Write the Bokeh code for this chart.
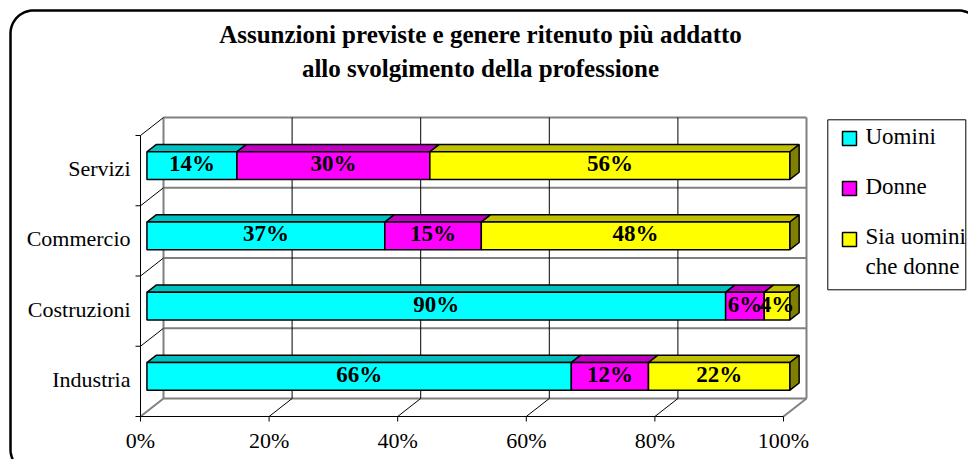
import numpy as np
from bokeh.plotting import figure
from bokeh.models import Range1d
from bokeh.core.properties import value
from bokeh.embed import file_html
from bokeh.resources import INLINE

# ---------------- data ----------------
categories = ["Industria", "Costruzioni", "Commercio", "Servizi"]
series_names = ["Uomini", "Donne", "Sia uomini\nche donne"]
uomini = [66, 90, 37, 14]
donne = [12, 6, 15, 30]
entrambi = [22, 4, 48, 56]
x_ticks = [0, 20, 40, 60, 80, 100]
x_tick_labels = ["0%", "20%", "40%", "60%", "80%", "100%"]
title_lines = ["Assunzioni previste e genere ritenuto più addatto",
               "allo svolgimento della professione"]

# ---------------- style ----------------
front_colors = ["#00FFFF", "#FF00FF", "#FFFF00"]
top_colors = ["#00C0C0", "#C000C0", "#C0C000"]
side_colors = ["#008080", "#800080", "#808000"]
GRAY = "#808080"
FONT = value("Liberation Serif")

# layout mapping (page pixels -> data units)
X0PX, PXPCT = 140.0, 6.43     # 0% of front axis, px per percent
Y0PX, PXCAT = 416.0, 70.25    # bottom of front axis, px per category
W, H = 968, 459
TFIX = 7.5                    # baseline correction of the svg text (px)


def X(px):
    return (px - X0PX) / PXPCT


def Y(py):
    return (Y0PX - py) / PXCAT


def YT(py):
    return Y(py - TFIX)


DX = 23.0 / PXPCT     # depth of the 3D box
DY = 18.0 / PXCAT
T1, T2 = 0.28, 0.68   # bar front/back depth fraction
HALF = 0.197          # half bar height (category units)

p = figure(width=W, height=H, output_backend="svg", toolbar_location=None,
           x_range=Range1d(X(0), X(W)), y_range=Range1d(Y(H), Y(0)),
           x_axis_location=None, y_axis_location=None, min_border=0,
           outline_line_color=None, background_fill_color="white",
           border_fill_color="white")
p.grid.visible = False

n = len(categories)
xmax = x_ticks[-1]

# ---------------- outer rounded frame ----------------
r = 23.0
l, t, rr, b = 10.0, 10.0, 981.0, 472.0
pts = []
for (cx, cy, a0, a1) in [(l + r, t + r, np.pi, 1.5 * np.pi),
                         (rr - r, t + r, 1.5 * np.pi, 2 * np.pi),
                         (rr - r, b - r, 0, 0.5 * np.pi),
                         (l + r, b - r, 0.5 * np.pi, np.pi)]:
    a = np.linspace(a0, a1, 20)
    pts += list(zip(cx + r * np.cos(a), cy + r * np.sin(a)))
pts.append(pts[0])
p.line([X(q[0]) for q in pts], [Y(q[1]) for q in pts], line_color="black", line_width=2.5)

# ---------------- 3D walls ----------------
gx, gy = [], []
gx += [[DX, DX], [DX, xmax + DX], [xmax + DX, xmax + DX], [DX, xmax + DX], [0, DX], [xmax, xmax + DX]]
gy += [[DY, n + DY], [n + DY, n + DY], [DY, n + DY], [DY, DY], [0, DY], [0, DY]]
for k in range(1, n):
    gx.append([DX, xmax + DX])
    gy.append([k + DY, k + DY])
p.multi_line(gx, gy, line_color=GRAY, line_width=2)

bx, by = [], []
for v in x_ticks[1:-1]:
    bx.append([v + DX, v + DX]); by.append([DY, n + DY])
    bx.append([v, v + DX]); by.append([0, DY])
for k in range(1, n + 1):
    bx.append([0, DX]); by.append([k, k + DY])
for v in x_ticks:
    bx.append([v, v]); by.append([0, -5.0 / PXCAT])
for k in range(0, n + 1):
    bx.append([0, -5.0 / PXPCT]); by.append([k, k])
bx.append([0, xmax]); by.append([0, 0])
bx.append([0, 0]); by.append([0, n])
p.multi_line(bx, by, line_color="black", line_width=1)

# ---------------- bars ----------------
series = [uomini, donne, entrambi]
fx1, fy1 = T1 * DX, T1 * DY
fx2, fy2 = T2 * DX, T2 * DY
lab_x, lab_y, lab_t = [], [], []
for k in range(n):
    left = 0.0
    yc = k + 0.5
    for s, vals in enumerate(series):
        v = vals[k]
        right = left + v
        bot, top = yc - HALF, yc + HALF
        front_x = [left + fx1, right + fx1, right + fx1, left + fx1]
        front_y = [bot + fy1, bot + fy1, top + fy1, top + fy1]
        top_x = [left + fx1, right + fx1, right + fx2, left + fx2]
        top_y = [top + fy1, top + fy1, top + fy2, top + fy2]
        p.patch(top_x, top_y, fill_color=top_colors[s], line_color="black", line_width=1.5)
        p.patch(front_x, front_y, fill_color=front_colors[s], line_color="black", line_width=1.5)
        if s == len(series) - 1:
            side_x = [right + fx1, right + fx2, right + fx2, right + fx1]
            side_y = [bot + fy1, bot + fy2, top + fy2, top + fy1]
            p.patch(side_x, side_y, fill_color=side_colors[s], line_color="black", line_width=1.5)
        lab_x.append((left + right) / 2 + fx1)
        lab_y.append(yc + fy1 - (5.5 - TFIX) / PXCAT)
        lab_t.append(f"{v}%")
        left = right

p.text(lab_x, lab_y, text=lab_t, text_font=FONT, text_font_size="23px",
       text_font_style="bold", text_align="center", text_baseline="alphabetic",
       text_color="black")

# ---------------- axis labels ----------------
p.text([X(130)] * n, [k + 0.5 - (5.5 - TFIX) / PXCAT for k in range(n)], text=categories,
       text_font=FONT, text_font_size="22px", text_align="right",
       text_baseline="alphabetic", text_color="black")
p.text(x_ticks, [YT(447.7)] * len(x_ticks), text=x_tick_labels,
       text_font=FONT, text_font_size="22px", text_align="center",
       text_baseline="alphabetic", text_color="black")

# ---------------- title ----------------
p.text([X(480)] * 2, [YT(41.7), YT(75)], text=title_lines, text_font=FONT,
       text_font_size="25px", text_font_style="bold", text_align="center",
       text_baseline="alphabetic", text_color="black")

# ---------------- legend ----------------
lx0, ly0, lx1, ly1 = 827.3, 119.3, 965.3, 289.3
p.line([X(lx0), X(lx1), X(lx1), X(lx0), X(lx0)],
       [Y(ly0), Y(ly0), Y(ly1), Y(ly1), Y(ly0)], line_color="black", line_width=1)
sw_top = [131.0, 181.0, 232.0]
txt_base = [143.3, 193.3, 243.3]
p.quad(left=[X(842)] * 3, right=[X(856)] * 3, top=[Y(v) for v in sw_top],
       bottom=[Y(v + 14) for v in sw_top], fill_color=front_colors,
       line_color="black", line_width=1.5)
lt_x, lt_y, lt_t = [], [], []
for i, name in enumerate(series_names):
    for j, part in enumerate(name.split("\n")):
        lt_x.append(X(865))
        lt_y.append(YT(txt_base[i] + 30.5 * j))
        lt_t.append(part)
p.text(lt_x, lt_y, text=lt_t, text_font=FONT, text_font_size="23px",
       text_align="left", text_baseline="alphabetic", text_color="black")

open("out.html", "w").write(file_html(p, INLINE))
